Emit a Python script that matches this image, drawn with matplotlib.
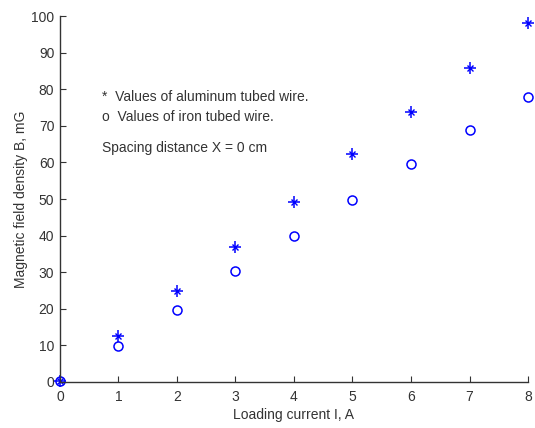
import numpy as np
import matplotlib
matplotlib.use("Agg")
import matplotlib.pyplot as plt

plt.rcParams['font.family'] = ['Liberation Sans', 'DejaVu Sans']

# Données
current = [0, 1, 2, 3, 4, 5, 6, 7, 8]
b_aluminum = [0.3, 12.7, 25.0, 37.0, 49.2, 62.2, 73.7, 85.8, 98.0]
b_iron = [0.3, 9.9, 19.7, 30.3, 39.9, 49.6, 59.7, 68.8, 78.0]

x_ticks = [0, 1, 2, 3, 4, 5, 6, 7, 8]
y_ticks = [0, 10, 20, 30, 40, 50, 60, 70, 80, 90, 100]

axis_color = "#333333"
blue = "#0000ff"

fig = plt.figure(figsize=(5.35, 4.28), dpi=100)
ax = fig.add_axes([0.112, 0.1075, 0.875, 0.855])

# Marqueur "*" façon MATLAB : un + et un x superposés
ax.plot(current, b_aluminum, '+', color=blue, markersize=8, markeredgewidth=1.1,
        linestyle='none', clip_on=False)
ax.plot(current, b_aluminum, 'x', color=blue, markersize=5, markeredgewidth=1.0,
        linestyle='none', clip_on=False)
ax.plot(current, b_iron, 'o', color=blue, markerfacecolor='none', markersize=6.5,
        markeredgewidth=1.1, linestyle='none', clip_on=False)

ax.set_xlim(0, 8)
ax.set_ylim(0, 100)
ax.set_xticks(x_ticks)
ax.set_yticks(y_ticks)

for side in ['top', 'right']:
    ax.spines[side].set_visible(False)
for side in ['left', 'bottom']:
    ax.spines[side].set_color(axis_color)
    ax.spines[side].set_linewidth(1.0)
ax.tick_params(direction='in', length=4, color=axis_color, labelcolor=axis_color, labelsize=10)
ax.tick_params(axis='x', pad=6)
ax.tick_params(axis='y', pad=4)

ax.set_xlabel("Loading current I, A", fontsize=10, color=axis_color, labelpad=3)
ax.set_ylabel("Magnetic field density B, mG", fontsize=10, color=axis_color, labelpad=2)

# Légende écrite à la main comme dans l'original
ax.text(0.72, 77.9, "*  Values of aluminum tubed wire.", fontsize=10, color=axis_color, va='center')
ax.text(0.72, 72.4, "o  Values of iron tubed wire.", fontsize=10, color=axis_color, va='center')
ax.text(0.72, 64.0, "Spacing distance X = 0 cm", fontsize=10, color=axis_color, va='center')

fig.savefig("out.png", dpi=100)
